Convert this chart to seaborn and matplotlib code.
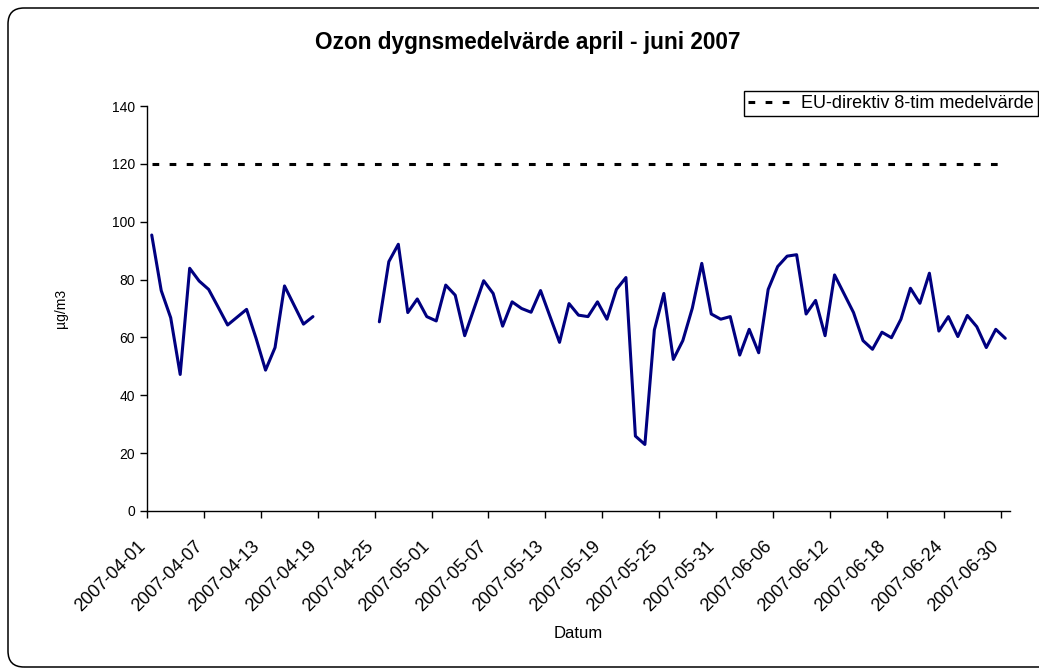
import numpy as np
import pandas as pd
import matplotlib
matplotlib.use("Agg")
import matplotlib.pyplot as plt
import matplotlib.dates as mdates
import matplotlib.transforms as mtransforms
from matplotlib.patches import FancyBboxPatch
import seaborn as sns

# Dagliga medelvärden ozon (µg/m3), 2007-04-01 .. 2007-06-30, NaN = saknas
ozon = [
    95.4, 76.2, 66.8, 47.2, 83.9, 79.5, 76.6, 70.5, 64.3, 67.0,
    69.7, 59.7, 48.7, 56.5, 77.8, 71.2, 64.6, 67.2,
    np.nan, np.nan, np.nan, np.nan, np.nan, np.nan,
    65.4, 86.2, 92.2, 68.6, 73.3, 67.2, 65.7, 78.1, 74.6, 60.6,
    70.1, 79.6, 75.2, 63.9, 72.3, 70.0, 68.7, 76.2, 67.2, 58.3,
    71.7, 67.7, 67.2, 72.3, 66.3, 76.6, 80.7, 25.9, 23.0, 62.6,
    75.2, 52.4, 58.9, 70.1, 85.6, 68.1, 66.3, 67.2, 53.9, 62.8,
    54.7, 76.6, 84.5, 88.1, 88.6, 68.1, 72.8, 60.6, 81.6, 75.1,
    68.6, 58.9, 55.9, 61.8, 59.9, 66.3, 77.0, 71.8, 82.2, 62.2,
    67.2, 60.3, 67.6, 63.7, 56.5, 62.8, 59.7,
]
eu_grans = 120
datum = pd.date_range("2007-04-01", periods=len(ozon), freq="D")
tick_datum = pd.date_range("2007-04-01", "2007-06-30", freq="6D")
y_ticks = [0, 20, 40, 60, 80, 100, 120, 140]

df = pd.DataFrame({"datum": datum + pd.Timedelta(hours=12), "ozon": ozon})
df["seg"] = df["ozon"].isna().cumsum()
df = df.dropna()
eu = pd.DataFrame({"datum": datum + pd.Timedelta(hours=12), "eu": eu_grans})

sns.set_style("white")
plt.rcParams["font.family"] = ["Liberation Sans", "DejaVu Sans"]
plt.rcParams.update({"text.color": "black", "axes.labelcolor": "black",
                     "xtick.color": "black", "ytick.color": "black"})

fig = plt.figure(figsize=(10.39, 6.69), dpi=100)
ax = fig.add_axes([147 / 1039, 1 - 511 / 669, 863 / 1039, 405 / 669])

# ram runt diagramytan
ram = FancyBboxPatch((8 / 100, 2 / 100), 1060 / 100, 659 / 100,
                     boxstyle="round,pad=0,rounding_size=0.16",
                     transform=fig.dpi_scale_trans, fill=False,
                     edgecolor="black", linewidth=1.1)
fig.patches.append(ram)

sns.lineplot(data=df, x="datum", y="ozon", units="seg", estimator=None,
             color="#000080", linewidth=2.2, ax=ax, legend=False)
ax.plot(eu["datum"], eu["eu"], color="black", linewidth=2.2,
        dashes=(2.2, 3.4), label="EU-direktiv 8-tim medelvärde")

ax.set_xlim(pd.Timestamp("2007-04-01"), pd.Timestamp("2007-07-01"))
ax.set_ylim(0, 140)
ax.set_yticks(y_ticks)
ax.set_xticks(tick_datum)
ax.xaxis.set_major_formatter(mdates.DateFormatter("%Y-%m-%d"))

for s in ["top", "right"]:
    ax.spines[s].set_visible(False)
for s in ["left", "bottom"]:
    ax.spines[s].set_color("black")
    ax.spines[s].set_linewidth(1.0)

ax.tick_params(axis="both", direction="out", length=5, width=1, color="black",
               labelsize=10, bottom=True, left=True)
ax.tick_params(axis="x", labelsize=13, pad=14)

ax.set_xlabel("Datum", fontsize=12)
ax.set_ylabel("µg/m3", fontsize=10)
ax.xaxis.set_label_coords(0.5, -0.285)
ax.yaxis.set_label_coords(-0.092, 0.5)

fig.text(528 / 1039, 1 - 42 / 669, "Ozon dygnsmedelvärde april - juni 2007",
         ha="center", va="center", fontsize=16.3, fontweight="bold")

ax.legend(loc="upper left", bbox_to_anchor=(744 / 1039, 1 - 91 / 669),
          bbox_transform=fig.transFigure, frameon=True, fancybox=False,
          edgecolor="black", framealpha=1, fontsize=13, handlelength=2.75,
          handletextpad=0.2, borderpad=0.22, borderaxespad=0)
ax.get_legend().get_frame().set_linewidth(1.0)

# rita en gång så att tickarna finns, flytta sedan etiketterna lite åt vänster
fig.canvas.draw()
skift = mtransforms.ScaledTranslation(-10 / 100, 0, fig.dpi_scale_trans)
for lbl in ax.get_xticklabels():
    lbl.set_rotation(45)
    lbl.set_ha("right")
    lbl.set_va("top")
    lbl.set_rotation_mode("anchor")
    lbl.set_transform(lbl.get_transform() + skift)

fig.savefig("out.png", dpi=100)
